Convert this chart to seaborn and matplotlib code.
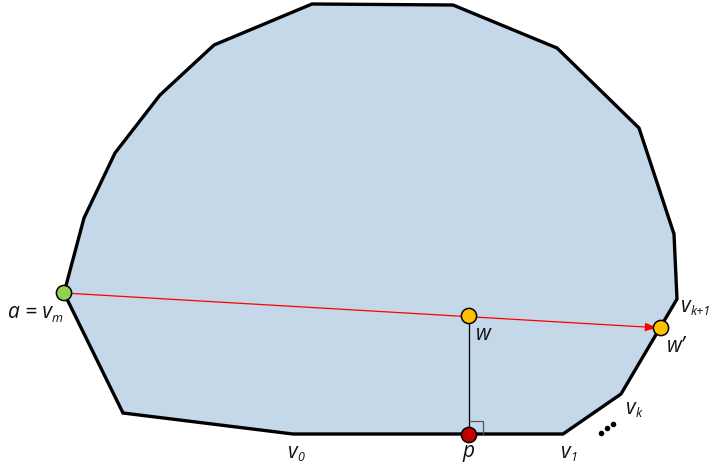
import seaborn as sns
import matplotlib.pyplot as plt
import pandas as pd
import numpy as np

# polygon vertices in image pixel coordinates (y grows downwards)
poly_x = [64, 84, 115, 160, 214, 312, 453, 557, 639, 674, 677, 621, 563, 293, 123]
poly_y = [293, 218, 153, 95, 45, 4, 5, 48, 128, 234, 299, 394, 434, 434, 413]

# marked points
pt_names = ['a', 'w', 'w_prime', 'p']
pt_x = [64, 469, 661, 469]
pt_y = [293, 316, 328, 435]
pt_colors = ['#92D050', '#FFC000', '#FFC000', '#C00000']

# labels: base text + subscript
label_base = ['a = v', 'w', 'w\u2019', 'p', 'v', 'v', 'v', 'v']
label_sub = ['m', '', '', '', '0', '1', 'k', 'k+1']
label_x = [8, 476, 667, 462, 288, 561, 626, 681]
label_y = [313, 334, 346, 452, 452, 452, 408, 306]

sns.set_style('white')
plt.rcParams['font.family'] = ['Open Sans', 'DejaVu Sans']

fig = plt.figure(figsize=(7.12, 4.68), dpi=100)
ax = fig.add_axes([0, 0, 1, 1])

ax.fill(poly_x, poly_y, facecolor='#C5D8EA', edgecolor='black', linewidth=2.4,
        joinstyle='miter', zorder=1)

# red ray from a to w'
ax.annotate('', xy=(pt_x[2] - 4, pt_y[2] - 0.3), xytext=(pt_x[0], pt_y[0]),
            arrowprops=dict(arrowstyle='-|>,head_length=0.7,head_width=0.25',
                            color='#FF0000', lw=0.9, shrinkA=0, shrinkB=0), zorder=2)

# perpendicular from w to p
ax.plot([pt_x[1], pt_x[3]], [pt_y[1], pt_y[3]], color='black', lw=0.9, zorder=2)
sq = 14
ax.plot([pt_x[3], pt_x[3] + sq, pt_x[3] + sq], [pt_y[3] - sq, pt_y[3] - sq, pt_y[3]],
        color='#555555', lw=0.9, zorder=2)

pts = pd.DataFrame({'name': pt_names, 'x': pt_x, 'y': pt_y})
sns.scatterplot(data=pts, x='x', y='y', hue='name', palette=pt_colors, s=120,
                edgecolor='black', linewidth=1.1, legend=False, ax=ax, zorder=3)
ax.set_xlim(0, 712)
ax.set_ylim(468, 0)
ax.axis('off')

for base, sub, x, y in zip(label_base, label_sub, label_x, label_y):
    t = ax.text(x, y, base, fontsize=15, ha='left', va='center', color='#111111',
                style='italic')
    if sub:
        ax.annotate(sub, xy=(1.0, 0.22), xycoords=t, xytext=(0, 0),
                    textcoords='offset points', fontsize=9, style='italic',
                    ha='left', va='center', color='#111111')

# ellipsis between v1 and vk
for dx, dy in [(-6, 4.5), (0, 0), (6, -4.5)]:
    ax.plot(607 + dx, 428 + dy, 'o', color='black', ms=3)

fig.savefig('out.png', dpi=100)
